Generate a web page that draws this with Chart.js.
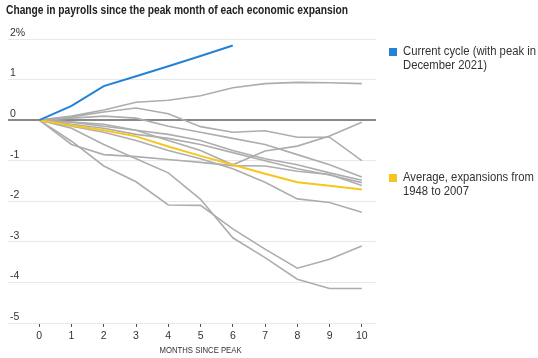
<!DOCTYPE html>
<html><head><meta charset="utf-8">
<script src="https://cdn.jsdelivr.net/npm/chart.js@4.4.1/dist/chart.umd.min.js"></script>
<style>
html,body{margin:0;padding:0;background:#fff;}
#wrap{position:relative;width:538px;height:358px;overflow:hidden;background:#fff;}
#chart{position:absolute;left:0;top:0;}
#title{position:absolute;left:6px;top:3px;font:bold 12.5px 'Liberation Sans',sans-serif;color:#222;white-space:nowrap;transform-origin:0 0;}
.leg{position:absolute;left:389px;font:13px 'Liberation Sans',sans-serif;color:#333;line-height:14px;}
.leg i{position:absolute;left:0;top:4px;width:8px;height:8px;}
.leg span{position:absolute;left:14px;top:0;display:block;transform-origin:0 0;}
</style></head>
<body>
<div id="wrap">
  <canvas id="chart" width="538" height="358"></canvas>
  <div id="title">Change in payrolls since the peak month of each economic expansion</div>
  <div id="legend"></div>
</div>
<script>
const months = [0,1,2,3,4,5,6,7,8,9,10];
const yTicks = [2,1,0,-1,-2,-3,-4,-5];
const xTitle = 'MONTHS SINCE PEAK';
const currentLabel = 'Current cycle (with peak in December 2021)';
const averageLabel = 'Average, expansions from 1948 to 2007';

const currentCycle = [0, 0.35, 0.84, 1.08, 1.33, 1.58, 1.84];
const average = [0, -0.13, -0.25, -0.40, -0.65, -0.88, -1.10, -1.32, -1.53, -1.62, -1.71];

const pastA = [0, 0.10, 0.25, 0.44, 0.49, 0.60, 0.80, 0.90, 0.93, 0.92, 0.90];
const pastB = [0, 0.08, 0.20, 0.30, 0.16, -0.16, -0.30, -0.26, -0.42, -0.42, -1.00];
const pastC = [0, -0.05, -0.10, -0.25, -0.50, -0.75, -1.10, -0.76, -0.64, -0.39, -0.05];
const pastD = [0, -0.60, -0.85, -0.90, -0.97, -1.04, -1.12, -1.13, -1.26, -1.34, -1.61];
const pastE = [0, -0.52, -1.13, -1.52, -2.09, -2.10, -2.68, -3.18, -3.65, -3.43, -3.10];
const pastF = [0, -0.20, -0.60, -0.95, -1.30, -1.95, -2.90, -3.39, -3.92, -4.15, -4.15];
const pastG = [0, -0.15, -0.30, -0.50, -0.75, -0.95, -1.20, -1.53, -1.94, -2.03, -2.27];
const pastH = [0, 0.05, 0.10, 0.05, -0.15, -0.30, -0.45, -0.60, -0.85, -1.10, -1.40];
const pastI = [0, -0.05, -0.15, -0.25, -0.35, -0.50, -0.75, -0.95, -1.10, -1.30, -1.48];
const pastJ = [0, -0.10, -0.20, -0.35, -0.45, -0.60, -0.80, -1.00, -1.20, -1.35, -1.54];
const pastSeries = [pastA, pastB, pastC, pastD, pastE, pastF, pastG, pastH, pastI, pastJ];

const BLUE = '#2482d6', YELLOW = '#f7c51e', GREY = '#adadad';
const pts = arr => arr.map((v, i) => ({x: months[i], y: v}));

const datasets = [
  {label: currentLabel, data: pts(currentCycle), borderColor: BLUE, backgroundColor: BLUE, borderWidth: 2},
  {label: averageLabel, data: pts(average), borderColor: YELLOW, backgroundColor: YELLOW, borderWidth: 2},
  ...pastSeries.map((s, k) => ({label: 'past' + k, data: pts(s), borderColor: GREY, borderWidth: 1.6}))
];
datasets.forEach(d => { d.pointRadius = 0; d.tension = 0; d.fill = false; });

const FONT = "'Liberation Sans',sans-serif";
const mctx = document.createElement('canvas').getContext('2d');
function textW(font, s) { mctx.font = font; return mctx.measureText(s).width; }

// x-axis title centred on the month range, slightly condensed like the original
const xTitlePlugin = {
  id: 'xTitle',
  afterDraw(chart) {
    const x = chart.scales.x;
    const ctx = chart.ctx;
    const cx = (x.getPixelForValue(months[0]) + x.getPixelForValue(months[months.length - 1])) / 2;
    ctx.save();
    ctx.font = "9.5px " + FONT;
    ctx.fillStyle = '#333';
    ctx.textAlign = 'center';
    ctx.textBaseline = 'middle';
    const sx = 82 / ctx.measureText(xTitle).width;
    ctx.translate(cx, 350);
    ctx.scale(sx, 1);
    ctx.fillText(xTitle, 0, 0);
    ctx.restore();
  }
};

new Chart(document.getElementById('chart'), {
  type: 'line',
  data: {datasets},
  plugins: [xTitlePlugin],
  options: {
    responsive: false,
    animation: false,
    devicePixelRatio: 1,
    layout: {padding: {left: 4, top: 39, right: 162, bottom: 0}},
    plugins: {legend: {display: false}, tooltip: {enabled: false}, title: {display: false}},
    scales: {
      x: {
        type: 'linear', min: -0.97, max: 10.44,
        afterBuildTicks: s => { s.ticks = months.map(v => ({value: v})); },
        afterFit: s => { s.height = 35; },
        border: {display: false},
        grid: {drawOnChartArea: false, drawTicks: true, tickLength: 4, tickColor: '#555', tickWidth: 1},
        ticks: {padding: 3, color: '#333', font: {family: FONT, size: 10.5}, callback: v => String(v)},
        title: {display: false}
      },
      y: {
        min: -5, max: 2,
        afterBuildTicks: s => { s.ticks = yTicks.map(v => ({value: v})); },
        border: {display: false},
        grid: {
          drawTicks: false,
          color: c => c.tick && c.tick.value === 0 ? '#888888' : '#e8e8e8',
          lineWidth: c => c.tick && c.tick.value === 0 ? 2 : 1
        },
        ticks: {mirror: true, padding: 2, labelOffset: -6, color: '#333', font: {family: FONT, size: 10.5},
          callback: v => v === 2 ? '2%' : String(v)}
      }
    }
  }
});

// title condensed to the original's width
const titleEl = document.getElementById('title');
const tW = textW("bold 12.5px " + FONT, titleEl.textContent);
titleEl.style.transform = 'scaleX(' + (342 / tW) + ')';

// HTML legend built from dataset labels, wrapped into two lines
const legendTops = [44, 170];
const legendEl = document.getElementById('legend');
const LFONT = "13px " + FONT;
const lineTarget = 133, firstLine = 'Current cycle (with peak in';
const lScale = lineTarget / textW(LFONT, firstLine);
const maxW = 140 / lScale;
function wrap(label) {
  const words = label.split(' ');
  const lines = [];
  let cur = '';
  words.forEach(w => {
    const t = cur ? cur + ' ' + w : w;
    if (textW(LFONT, t) > maxW && cur) { lines.push(cur); cur = w; } else cur = t;
  });
  if (cur) lines.push(cur);
  return lines;
}
datasets.slice(0, 2).forEach((d, i) => {
  const div = document.createElement('div');
  div.className = 'leg';
  div.style.top = legendTops[i] + 'px';
  const sw = document.createElement('i');
  sw.style.background = d.borderColor;
  div.appendChild(sw);
  const span = document.createElement('span');
  span.style.transform = 'scaleX(' + lScale + ')';
  span.style.whiteSpace = 'nowrap';
  wrap(d.label).forEach((ln, j) => {
    if (j) span.appendChild(document.createElement('br'));
    span.appendChild(document.createTextNode(ln));
  });
  div.appendChild(span);
  legendEl.appendChild(div);
});
</script>
</body></html>
